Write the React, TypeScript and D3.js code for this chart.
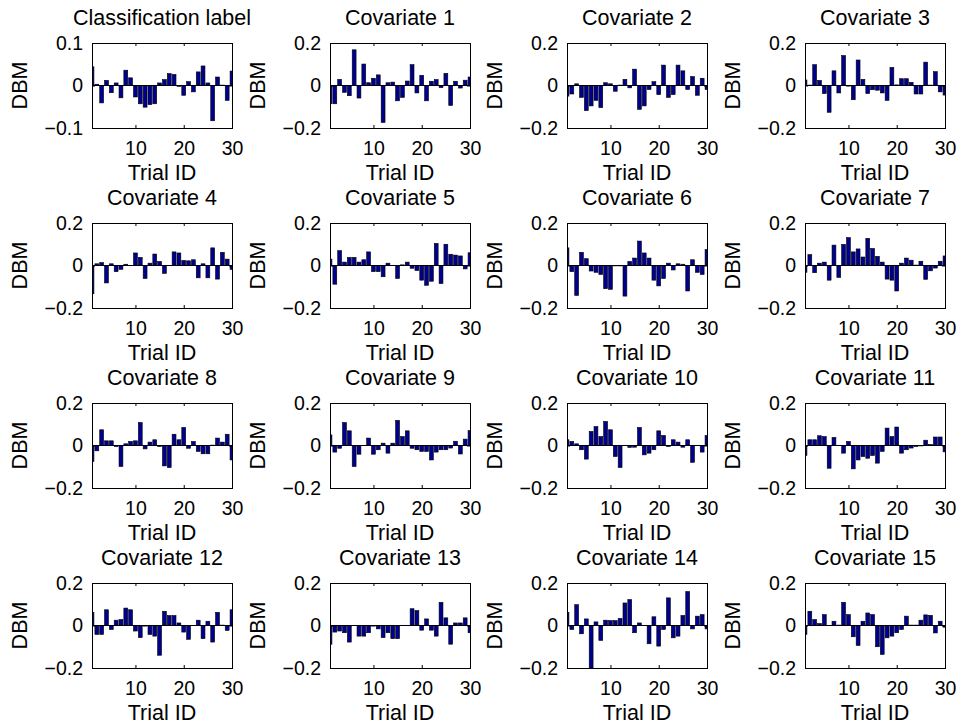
import { useEffect, useRef } from "react";
import * as d3 from "d3";

// trial ids on the x axis
const trials = [
  1, 2, 3, 4, 5, 6, 7, 8, 9, 10, 11, 12, 13, 14, 15, 16, 17, 18, 19, 20, 21,
  22, 23, 24, 25, 26, 27, 28, 29, 30,
];
const xTicks = [10, 20, 30];

// DBM values per trial
const classLabel = [0.044, 0.003, -0.041, 0.012, -0.017, 0.006, -0.029, 0.036, 0.018, -0.027, -0.043, -0.051, -0.045, -0.043, 0.006, 0.014, 0.028, 0.026, -0.002, -0.023, 0.009, -0.015, 0.032, 0.046, 0.006, -0.083, 0.02, 0.001, -0.035, 0.034];
const cov1 = [-0.086, -0.086, 0.029, -0.032, -0.048, 0.168, -0.059, 0.101, 0.013, 0.034, 0.05, -0.174, 0.013, 0.016, -0.072, -0.056, 0.021, 0.098, -0.035, 0.048, -0.072, 0.02, 0.028, -0.01, 0.057, -0.094, 0.02, -0.012, 0.025, 0.04];
const cov2 = [-0.05, -0.04, 0.008, -0.056, -0.118, -0.096, -0.07, -0.104, 0.013, 0.008, -0.027, 0.002, 0.029, -0.011, 0.077, -0.112, -0.096, -0.019, 0.018, -0.043, 0.096, -0.056, -0.043, 0.096, 0.069, -0.019, 0.042, -0.046, 0.034, -0.019];
const cov3 = [0.026, 0.002, 0.098, 0.024, -0.038, -0.126, 0.069, -0.035, 0.141, -0.003, -0.067, 0.12, 0.029, -0.038, -0.02, -0.022, -0.035, -0.07, 0.085, 0.003, 0.032, 0.032, 0.015, -0.04, -0.04, 0.11, 0.002, 0.065, -0.03, -0.045];
const cov4 = [-0.133, 0.008, 0.014, -0.082, 0.008, -0.029, -0.018, 0.006, 0.001, 0.059, 0.038, -0.061, 0.011, 0.054, 0.019, -0.037, 0.001, 0.064, 0.059, 0.024, 0.022, 0.027, -0.058, 0.008, -0.058, 0.083, -0.064, 0.062, 0.03, -0.018];
const cov5 = [0.03, -0.088, 0.07, 0.016, 0.038, 0.038, 0.016, 0.027, 0.064, -0.029, -0.029, -0.053, 0.011, 0.001, -0.061, 0.003, 0.016, -0.013, -0.024, -0.069, -0.093, -0.074, 0.104, -0.085, 0.1, 0.053, 0.049, 0.045, -0.016, 0.06];
const cov6 = [0.083, -0.029, -0.141, 0.062, 0.032, -0.026, -0.032, -0.042, -0.109, -0.112, -0.002, -0.002, -0.144, 0.019, 0.035, 0.115, 0.059, 0.035, -0.069, -0.096, -0.061, 0.011, -0.021, 0.008, 0.006, -0.12, 0.027, -0.032, -0.042, 0.075];
const cov7 = [-0.032, 0.051, -0.034, 0.011, 0.016, -0.069, 0.096, -0.056, 0.099, 0.131, 0.064, 0.078, 0.04, 0.128, 0.08, 0.043, 0.016, -0.064, -0.069, -0.12, 0.011, 0.035, 0.025, 0.002, 0.02, -0.065, -0.025, -0.012, 0.02, 0.045];
const cov8 = [-0.075, -0.025, 0.074, 0.022, 0.022, -0.005, -0.099, 0.008, 0.019, 0.022, 0.108, -0.016, 0.016, 0.027, -0.005, -0.096, -0.104, 0.053, 0.027, 0.085, -0.013, 0.019, -0.028, -0.039, -0.039, 0.002, 0.035, 0.016, 0.053, -0.068];
const cov9 = [0.05, -0.031, -0.013, 0.108, 0.069, -0.099, -0.041, 0.001, 0.035, -0.041, -0.02, 0.011, -0.036, 0.011, 0.118, 0.042, 0.069, -0.013, -0.02, -0.028, -0.028, -0.068, -0.031, -0.02, -0.02, -0.012, 0.02, -0.04, 0.03, 0.07];
const cov10 = [0.027, 0.019, 0.008, -0.02, -0.064, 0.066, 0.089, 0.042, 0.113, 0.074, -0.052, -0.104, 0.001, -0.009, -0.008, 0.085, -0.044, -0.036, -0.02, 0.069, 0.047, -0.005, 0.027, 0.016, -0.008, 0.027, -0.079, 0.001, -0.031, 0.047];
const cov11 = [-0.047, 0.027, 0.027, 0.046, 0.042, -0.107, 0.038, 0.001, -0.036, 0.019, -0.11, -0.068, -0.052, -0.06, -0.047, -0.083, -0.028, 0.082, 0.042, 0.087, -0.036, -0.02, -0.012, -0.005, -0.002, 0.025, 0.005, 0.04, 0.04, -0.03];
const cov12 = [0.062, -0.042, -0.042, 0.074, -0.019, 0.025, 0.028, 0.082, 0.074, -0.026, -0.057, -0.003, -0.042, -0.05, -0.14, 0.067, 0.047, 0.047, 0.012, -0.031, -0.065, 0.001, 0.025, -0.062, 0.02, -0.078, 0.062, 0.002, -0.023, 0.074];
const cov13 = [-0.088, -0.031, -0.026, -0.034, -0.078, 0.001, -0.05, -0.05, -0.034, -0.003, -0.016, -0.057, -0.034, -0.062, -0.062, 0.001, 0.001, 0.079, 0.07, -0.022, 0.031, -0.022, -0.05, 0.109, 0.036, -0.088, 0.012, 0.012, 0.036, -0.034];
const cov14 = [0.062, -0.019, 0.098, -0.039, 0.031, -0.2, 0.017, -0.07, 0.025, 0.023, 0.023, 0.033, 0.106, 0.122, -0.034, 0.012, 0.001, -0.086, 0.041, -0.097, -0.019, 0.13, -0.058, -0.05, 0.047, 0.16, -0.016, 0.044, 0.051, -0.016];
const cov15 = [-0.042, 0.067, 0.028, 0.009, 0.051, 0.001, 0.02, 0.002, 0.109, 0.051, -0.053, -0.094, 0.02, 0.059, 0.051, -0.1, -0.136, -0.058, -0.05, -0.034, -0.019, 0.044, 0.002, 0.002, 0.025, 0.05, 0.048, -0.035, 0.02, -0.008];

const titles = [
  "Classification label",
  "Covariate 1", "Covariate 2", "Covariate 3", "Covariate 4", "Covariate 5",
  "Covariate 6", "Covariate 7", "Covariate 8", "Covariate 9", "Covariate 10",
  "Covariate 11", "Covariate 12", "Covariate 13", "Covariate 14", "Covariate 15",
];
const series = [
  classLabel, cov1, cov2, cov3, cov4, cov5, cov6, cov7,
  cov8, cov9, cov10, cov11, cov12, cov13, cov14, cov15,
];
// first panel has its own y range
const yMaxes = [0.1, 0.2, 0.2, 0.2, 0.2, 0.2, 0.2, 0.2, 0.2, 0.2, 0.2, 0.2, 0.2, 0.2, 0.2, 0.2];

const FONT = "'Liberation Sans', Arial, Helvetica, sans-serif";
const BAR = "#00008f";
const TICK_SIZE = "19.5px";
const LABEL_SIZE = "21.5px";

function App() {
  const svgRef = useRef<SVGSVGElement>(null);

  useEffect(() => {
    const svg = d3.select(svgRef.current);
    svg.selectAll("*").remove();

    // axes boxes in pixels
    const lefts = [92, 330, 567, 805];
    const tops = [43, 223, 403, 583];
    const w = 140;
    const h = 85;

    const fmt = (d: number) => (d === 0 ? "0" : (d < 0 ? "\u2212" : "") + Math.abs(d));

    series.forEach((vals, k) => {
      const x0 = lefts[k % 4];
      const y0 = tops[Math.floor(k / 4)];
      const m = yMaxes[k];

      const x = d3.scaleLinear().domain([1, 30]).range([x0, x0 + w]);
      const y = d3.scaleLinear().domain([-m, m]).range([y0 + h, y0]);

      const g = svg.append("g");

      // clip bars to the axes box (first and last bar get cut in half)
      const clipId = "clip" + k;
      g.append("clipPath")
        .attr("id", clipId)
        .append("rect")
        .attr("x", x0)
        .attr("y", y0)
        .attr("width", w)
        .attr("height", h);

      g.append("g")
        .attr("clip-path", `url(#${clipId})`)
        .selectAll("rect")
        .data(trials)
        .join("rect")
        .attr("x", (t) => x(t - 0.4))
        .attr("width", (t) => x(t + 0.4) - x(t - 0.4))
        .attr("y", (t, i) => y(Math.max(0, vals[i])))
        .attr("height", (t, i) => Math.abs(y(vals[i]) - y(0)))
        .attr("fill", BAR)
        .attr("stroke", "#000")
        .attr("stroke-width", 0.6);

      // baseline at zero
      g.append("line")
        .attr("x1", x0)
        .attr("x2", x0 + w)
        .attr("y1", y(0))
        .attr("y2", y(0))
        .attr("stroke", "#000")
        .attr("stroke-width", 1);

      const yTicks = [-m, 0, m];

      const styleAxis = (sel: any) => {
        sel.select(".domain").remove();
        sel.selectAll("line").attr("stroke", "#000");
        sel.selectAll("text").attr("fill", "#000").style("font-family", FONT).style("font-size", TICK_SIZE);
      };

      g.append("g")
        .attr("transform", `translate(0,${y0 + h})`)
        .call(d3.axisBottom(x).tickValues(xTicks).tickSizeInner(-3).tickSizeOuter(0).tickPadding(13).tickFormat((d) => String(d)))
        .call(styleAxis);

      g.append("g")
        .attr("transform", `translate(0,${y0})`)
        .call(d3.axisTop(x).tickValues(xTicks).tickSizeInner(-3).tickSizeOuter(0).tickFormat(() => ""))
        .call(styleAxis);

      g.append("g")
        .attr("transform", `translate(${x0},0)`)
        .call(d3.axisLeft(y).tickValues(yTicks).tickSizeInner(-3).tickSizeOuter(0).tickPadding(9).tickFormat((d) => fmt(+d)))
        .call(styleAxis);

      g.append("g")
        .attr("transform", `translate(${x0 + w},0)`)
        .call(d3.axisRight(y).tickValues(yTicks).tickSizeInner(-3).tickSizeOuter(0).tickFormat(() => ""))
        .call(styleAxis);

      // box
      g.append("rect")
        .attr("x", x0)
        .attr("y", y0)
        .attr("width", w)
        .attr("height", h)
        .attr("fill", "none")
        .attr("stroke", "#000")
        .attr("stroke-width", 1)
        .attr("shape-rendering", "crispEdges");

      g.append("text")
        .attr("x", x0 + w / 2)
        .attr("y", y0 - 18)
        .attr("text-anchor", "middle")
        .style("font-family", FONT)
        .style("font-size", LABEL_SIZE)
        .text(titles[k]);

      g.append("text")
        .attr("x", x0 + w / 2)
        .attr("y", y0 + h + 52)
        .attr("text-anchor", "middle")
        .style("font-family", FONT)
        .style("font-size", LABEL_SIZE)
        .text("Trial ID");

      g.append("text")
        .attr("transform", `translate(${x0 - 65},${y0 + h / 2}) rotate(-90)`)
        .attr("text-anchor", "middle")
        .style("font-family", FONT)
        .style("font-size", LABEL_SIZE)
        .text("DBM");
    });
  }, []);

  return (
    <svg
      ref={svgRef}
      width={960}
      height={725}
      style={{ position: "absolute", left: 0, top: 0, background: "#fff" }}
    />
  );
}

export default App;
